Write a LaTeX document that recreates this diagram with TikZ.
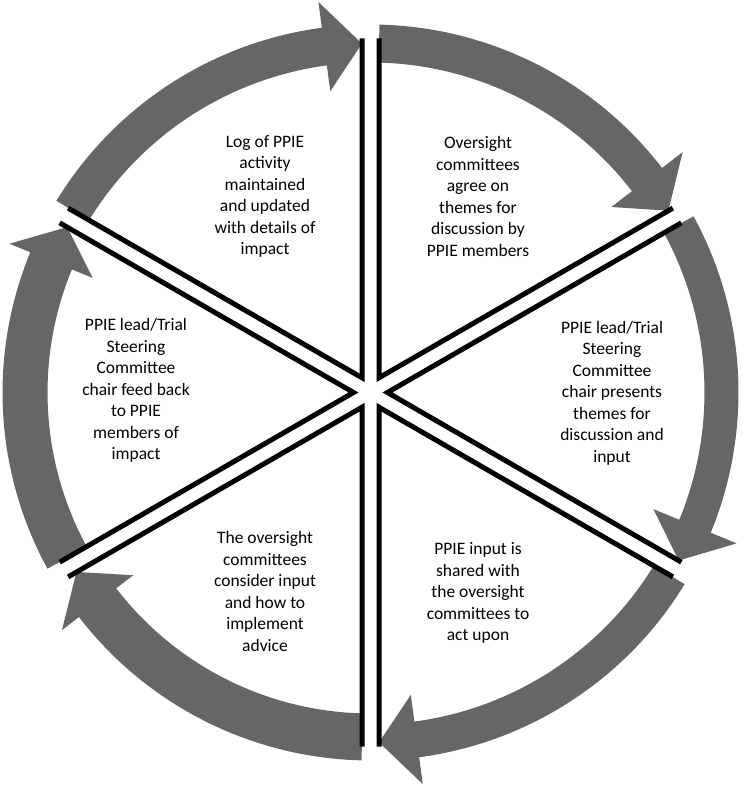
\documentclass[tikz,border=0pt]{standalone}
\usepackage{fontspec}
\setmainfont{Carlito}
\definecolor{arrowgray}{RGB}{102,102,102}
\begin{document}
\begin{tikzpicture}[x=1pt,y=1pt,
  txt/.style={align=center, font=\fontsize{17.5}{21.5}\selectfont, inner sep=0pt},
  spoke/.style={line width=5pt, black},
  ringarrow/.style={fill=arrowgray}]
\useasboundingbox (0,0) rectangle (742,786);
\begin{scope}[shift={(370.5pt,393.5pt)}]
  % circular arrows (clockwise)
  \foreach \a/\ri in {150/330, 90/330, 30/334, -30/332, -90/321, 210/323} {
    \pgfmathsetmacro\aT{\a-1.4}
    \pgfmathsetmacro\aE{\a-60+1.4}
    \pgfmathsetmacro\aB{\aE+6.2}
    \pgfmathsetmacro\rM{(\ri+368)/2}
    \pgfmathsetmacro\rHo{\rM+45}
    \pgfmathsetmacro\rHi{\rM-45}
    \fill[ringarrow] (\aT:368pt) arc[start angle=\aT, end angle=\aB, radius=368pt]
      -- (\aB:\rHo pt) -- (\aE:\rM pt) -- (\aB:\rHi pt) -- (\aB:\ri pt)
      arc[start angle=\aB, end angle=\aT, radius=\ri pt] -- cycle;
  }
  % spokes: six wedges
  \foreach \p in {0,60,...,300} {
    \pgfmathsetmacro\pA{\p+30}
    \pgfmathsetmacro\pB{\p-30}
    \draw[spoke] (\p:17pt) ++(\pA:339.3pt) -- (\p:17pt) -- ++(\pB:339.3pt);
  }
\end{scope}
\node[txt] (t1) at (265,589.5) {Log of PPIE\\activity\\maintained\\and updated\\with details of\\impact};
\node[txt] (t2) at (478,589.5) {Oversight\\committees\\agree on\\themes for\\discussion by\\PPIE members};
\node[txt] (t3) at (612,393) {PPIE lead/Trial\\Steering\\Committee\\chair presents\\themes for\\discussion and\\input};
\node[txt] (t4) at (478,193) {PPIE input is\\shared with\\the oversight\\committees to\\act upon};
\node[txt] (t5) at (265,194.5) {The oversight\\committees\\consider input\\and how to\\implement\\advice};
\node[txt] (t6) at (136,395.5) {PPIE lead/Trial\\Steering\\Committee\\chair feed back\\to PPIE\\members of\\impact};
\end{tikzpicture}
\end{document}
